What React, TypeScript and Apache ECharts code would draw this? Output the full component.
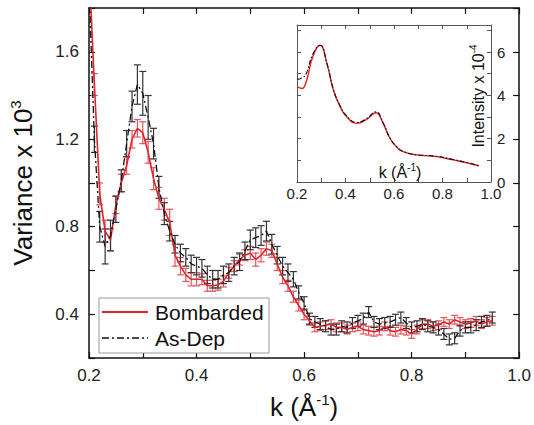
import React, { useEffect, useRef } from "react";
import * as echarts from "echarts";

const kValues = [
  0.2, 0.21, 0.22, 0.23, 0.24, 0.25, 0.26, 0.27, 0.28, 0.29,
  0.3, 0.31, 0.32, 0.33, 0.34, 0.35, 0.36, 0.37, 0.38, 0.39,
  0.4, 0.41, 0.42, 0.43, 0.44, 0.45, 0.46, 0.47, 0.48, 0.49,
  0.5, 0.51, 0.52, 0.53, 0.54, 0.55, 0.56, 0.57, 0.58, 0.59,
  0.6, 0.61, 0.62, 0.63, 0.64, 0.65, 0.66, 0.67, 0.68, 0.69,
  0.7, 0.71, 0.72, 0.73, 0.74, 0.75, 0.76, 0.77, 0.78, 0.79,
  0.8, 0.81, 0.82, 0.83, 0.84, 0.85, 0.86, 0.87, 0.88, 0.89,
  0.9, 0.91, 0.92, 0.93, 0.94, 0.95,
];

const asDep = [
  1.9, 1.2, 0.8, 0.71, 0.76, 0.88, 1.01, 1.18, 1.35, 1.45,
  1.41, 1.3, 1.18, 0.98, 0.86, 0.78, 0.72, 0.68, 0.66, 0.63,
  0.62, 0.61, 0.58, 0.56, 0.56, 0.58, 0.59, 0.62, 0.64, 0.69,
  0.74, 0.75, 0.76, 0.78, 0.72, 0.67, 0.62, 0.59, 0.56, 0.5,
  0.45, 0.38, 0.365, 0.355, 0.345, 0.33, 0.33, 0.345, 0.34, 0.36,
  0.37, 0.38, 0.41, 0.365, 0.355, 0.36, 0.365, 0.375, 0.385, 0.36,
  0.34, 0.345, 0.355, 0.345, 0.34, 0.33, 0.31, 0.285, 0.29, 0.325,
  0.34, 0.34, 0.35, 0.365, 0.37, 0.385,
];

const asDepErr = [
  0.05, 0.06, 0.07, 0.08, 0.07, 0.06, 0.05, 0.06, 0.07, 0.09,
  0.1, 0.1, 0.07, 0.05, 0.05, 0.045, 0.04, 0.04, 0.04, 0.04,
  0.04, 0.04, 0.04, 0.04, 0.04, 0.04, 0.04, 0.04, 0.04, 0.04,
  0.045, 0.045, 0.045, 0.045, 0.045, 0.04, 0.04, 0.04, 0.035, 0.03,
  0.03, 0.025, 0.025, 0.025, 0.025, 0.025, 0.025, 0.025, 0.025, 0.025,
  0.025, 0.025, 0.025, 0.025, 0.025, 0.025, 0.025, 0.025, 0.025, 0.025,
  0.025, 0.025, 0.025, 0.025, 0.025, 0.025, 0.025, 0.025, 0.025, 0.025,
  0.025, 0.025, 0.025, 0.025, 0.025, 0.025,
];

const bombarded = [
  2.0, 1.45, 0.95, 0.78, 0.74, 0.9, 1.0, 1.08, 1.2, 1.25,
  1.23, 1.14, 1.02, 0.93, 0.88, 0.82, 0.67, 0.62, 0.58, 0.56,
  0.56, 0.56, 0.53, 0.53, 0.535, 0.55, 0.59, 0.62, 0.65, 0.67,
  0.68, 0.65, 0.67, 0.7, 0.69, 0.63, 0.57, 0.53, 0.48, 0.44,
  0.4, 0.37, 0.34, 0.345, 0.35, 0.355, 0.34, 0.34, 0.33, 0.34,
  0.345, 0.33, 0.325, 0.32, 0.325, 0.345, 0.325, 0.32, 0.33, 0.325,
  0.31, 0.33, 0.355, 0.355, 0.345, 0.35, 0.365, 0.355, 0.375, 0.365,
  0.355, 0.36, 0.37, 0.355, 0.365, 0.37,
];

const bombardedErr = [
  0.05, 0.05, 0.05, 0.05, 0.05, 0.04, 0.04, 0.04, 0.04, 0.04,
  0.05, 0.05, 0.05, 0.05, 0.05, 0.06, 0.05, 0.04, 0.03, 0.03,
  0.03, 0.025, 0.025, 0.025, 0.025, 0.025, 0.025, 0.025, 0.025, 0.025,
  0.03, 0.03, 0.03, 0.03, 0.03, 0.03, 0.03, 0.025, 0.025, 0.025,
  0.025, 0.02, 0.02, 0.02, 0.02, 0.02, 0.02, 0.02, 0.02, 0.02,
  0.02, 0.02, 0.02, 0.02, 0.02, 0.02, 0.02, 0.02, 0.02, 0.02,
  0.02, 0.02, 0.02, 0.02, 0.02, 0.02, 0.02, 0.02, 0.02, 0.02,
  0.02, 0.02, 0.02, 0.02, 0.02, 0.02,
];

// Inset: intensity spectra
const insetK = [
  0.2, 0.22, 0.238, 0.265, 0.295, 0.323, 0.35, 0.378, 0.405, 0.446,
  0.487, 0.525, 0.555, 0.583, 0.61, 0.638, 0.693, 0.775, 0.844, 0.9, 0.95,
];
const insetBombarded = [
  4.4, 4.32, 4.63, 5.78, 6.32, 5.48, 4.25, 3.48, 3.01, 2.71,
  2.89, 3.2, 2.71, 2.02, 1.63, 1.4, 1.25, 1.17, 1.02, 0.89, 0.75,
];
const insetAsDep = [
  4.74, 4.8, 5.0, 5.9, 6.3, 5.5, 4.28, 3.52, 3.05, 2.75,
  2.93, 3.24, 2.74, 2.04, 1.64, 1.41, 1.26, 1.19, 1.04, 0.9, 0.75,
];

const RED = "#e0242c";
const RED_ERR = "#e8545a";
const BLACK = "#111111";
const BLACK_ERR = "#333333";
const FONT = "Liberation Sans, Arial, sans-serif";

function errSeries(name: string, vals: number[], errs: number[], color: string) {
  return {
    name,
    type: "custom",
    xAxisIndex: 0,
    yAxisIndex: 0,
    clip: true,
    silent: true,
    data: kValues.map((k, i) => [k, vals[i], errs[i]]),
    encode: { x: 0, y: 1 },
    renderItem: (params: any, api: any) => {
      const x = api.value(0);
      const y = api.value(1);
      const e = api.value(2);
      const top = api.coord([x, y + e]);
      const bot = api.coord([x, y - e]);
      const w = 3.5;
      const st = { stroke: color, lineWidth: 1.2 };
      return {
        type: "group",
        children: [
          { type: "line", shape: { x1: top[0], y1: top[1], x2: bot[0], y2: bot[1] }, style: st },
          { type: "line", shape: { x1: top[0] - w, y1: top[1], x2: top[0] + w, y2: top[1] }, style: st },
          { type: "line", shape: { x1: bot[0] - w, y1: bot[1], x2: bot[0] + w, y2: bot[1] }, style: st },
        ],
      };
    },
  };
}

const supRich = (size: number, raise: number) => ({
  sup: { fontSize: size, fontFamily: FONT, color: "#111", padding: [0, 0, raise, 0] },
});

export default function App() {
  const ref = useRef<HTMLDivElement>(null);
  useEffect(() => {
    document.body.style.margin = "0";
    if (!ref.current) return;
    const chart = echarts.init(ref.current, undefined, { renderer: "svg" });
    const axisLine = { show: true, onZero: false, lineStyle: { color: "#111", width: 1.5 } };
    const option: any = {
      animation: false,
      backgroundColor: "#fff",
      grid: [
        { left: 88, top: 8, width: 433, height: 350 },
        { left: 297, top: 25, width: 194, height: 157, show: true, backgroundColor: "#fff", borderWidth: 0 },
      ],
      xAxis: [
        {
          gridIndex: 0, type: "value", min: 0.2, max: 1.0, interval: 0.1, position: "bottom",
          axisLine, splitLine: { show: false },
          axisTick: { inside: true, length: 6, lineStyle: { color: "#111", width: 1.2 } },
          axisLabel: {
            fontSize: 17, fontFamily: FONT, color: "#222", margin: 9,
            formatter: (v: number) => (Math.round(v * 10) % 2 === 0 ? v.toFixed(1) : ""),
          },
          name: "k (Å{sup|-1})",
          nameLocation: "middle",
          nameGap: 34,
          nameTextStyle: { fontSize: 26, fontFamily: FONT, color: "#111", rich: supRich(15, 14) },
        },
        {
          gridIndex: 0, type: "value", min: 0.2, max: 1.0, interval: 0.1, position: "top",
          axisLine, splitLine: { show: false },
          axisTick: { inside: true, length: 6, lineStyle: { color: "#111", width: 1.2 } },
          axisLabel: { show: false },
        },
        {
          gridIndex: 1, type: "value", min: 0.2, max: 1.0, interval: 0.1, position: "bottom",
          axisLine: { show: true, onZero: false, lineStyle: { color: "#555", width: 1 } },
          splitLine: { show: false },
          axisTick: { inside: true, length: 4, lineStyle: { color: "#555", width: 1 } },
          axisLabel: {
            fontSize: 15, fontFamily: FONT, color: "#222", margin: 4,
            formatter: (v: number) => (Math.round(v * 10) % 2 === 0 ? v.toFixed(1) : ""),
          },
        },
        {
          gridIndex: 1, type: "value", min: 0.2, max: 1.0, interval: 0.1, position: "top",
          axisLine: { show: true, onZero: false, lineStyle: { color: "#555", width: 1 } },
          splitLine: { show: false },
          axisTick: { inside: true, length: 4, lineStyle: { color: "#555", width: 1 } },
          axisLabel: { show: false },
        },
      ],
      yAxis: [
        {
          gridIndex: 0, type: "value", min: 0.2, max: 1.8, interval: 0.2, position: "left",
          axisLine, splitLine: { show: false },
          axisTick: { inside: true, length: 6, lineStyle: { color: "#111", width: 1.2 } },
          axisLabel: {
            fontSize: 17, fontFamily: FONT, color: "#222", margin: 10,
            formatter: (v: number) => {
              const r = Math.round(v * 10);
              return r % 4 === 0 && r > 0 ? v.toFixed(1) : "";
            },
          },
          name: "Variance x 10{sup|3}",
          nameLocation: "middle",
          nameRotate: 90,
          nameGap: 52,
          nameTextStyle: { fontSize: 26, fontFamily: FONT, color: "#111", rich: supRich(15, 14) },
        },
        {
          gridIndex: 0, type: "value", min: 0.2, max: 1.8, interval: 0.2, position: "right",
          axisLine, splitLine: { show: false },
          axisTick: { inside: true, length: 6, lineStyle: { color: "#111", width: 1.2 } },
          axisLabel: { show: false },
        },
        {
          gridIndex: 1, type: "value", min: 0, max: 7.25, interval: 1, position: "right",
          axisLine: { show: true, onZero: false, lineStyle: { color: "#555", width: 1 } },
          splitLine: { show: false },
          axisTick: { inside: true, length: 4, lineStyle: { color: "#555", width: 1 } },
          axisLabel: {
            fontSize: 15, fontFamily: FONT, color: "#222", margin: 6,
            formatter: (v: number) => (Math.round(v) % 2 === 0 ? String(Math.round(v)) : ""),
          },
        },
        {
          gridIndex: 1, type: "value", min: 0, max: 7.25, interval: 1, position: "left",
          axisLine: { show: true, onZero: false, lineStyle: { color: "#555", width: 1 } },
          splitLine: { show: false },
          axisTick: { inside: true, length: 4, lineStyle: { color: "#555", width: 1 } },
          axisLabel: { show: false },
        },
      ],
      series: [
        errSeries("Bombarded err", bombarded, bombardedErr, RED_ERR),
        errSeries("As-Dep err", asDep, asDepErr, BLACK_ERR),
        {
          name: "Bombarded", type: "line", xAxisIndex: 0, yAxisIndex: 0, clip: true,
          data: kValues.map((k, i) => [k, bombarded[i]]),
          showSymbol: false, lineStyle: { color: RED, width: 1.6 },
        },
        {
          name: "As-Dep", type: "line", xAxisIndex: 0, yAxisIndex: 0, clip: true,
          data: kValues.map((k, i) => [k, asDep[i]]),
          showSymbol: false, lineStyle: { color: BLACK, width: 1.3, type: [7, 3, 2, 3] },
        },
        {
          name: "Inset Bombarded", type: "line", xAxisIndex: 2, yAxisIndex: 2, smooth: true,
          data: insetK.map((k, i) => [k, insetBombarded[i]]),
          showSymbol: false, lineStyle: { color: RED, width: 1.4 },
        },
        {
          name: "Inset As-Dep", type: "line", xAxisIndex: 2, yAxisIndex: 2, smooth: true,
          data: insetK.map((k, i) => [k, insetAsDep[i]]),
          showSymbol: false, lineStyle: { color: BLACK, width: 1.1, type: [5, 2, 1.5, 2] },
        },
      ],
      graphic: [
        {
          type: "rect", shape: { x: 99, y: 298, width: 170, height: 55 },
          style: { fill: "#fff", stroke: "#999", lineWidth: 1 }, z: 100,
        },
        {
          type: "line", shape: { x1: 102, y1: 312, x2: 148, y2: 312 },
          style: { stroke: RED, lineWidth: 2 }, z: 101,
        },
        {
          type: "line", shape: { x1: 102, y1: 338, x2: 148, y2: 338 },
          style: { stroke: BLACK, lineWidth: 1.4, lineDash: [7, 3, 2, 3] }, z: 101,
        },
        {
          type: "text", x: 155, y: 312, z: 101,
          style: { text: "Bombarded", fontSize: 21, fontFamily: FONT, fill: "#111", verticalAlign: "middle" },
        },
        {
          type: "text", x: 155, y: 338, z: 101,
          style: { text: "As-Dep", fontSize: 21, fontFamily: FONT, fill: "#111", verticalAlign: "middle" },
        },
        {
          type: "text", x: 400, y: 172, z: 101,
          style: {
            text: "k (Å{sup|-1})", fontSize: 16, fontFamily: FONT, fill: "#111",
            align: "center", verticalAlign: "middle",
            rich: { sup: { fontSize: 10, fontFamily: FONT, fill: "#111", padding: [0, 0, 9, 0] } },
          },
        },
        {
          type: "text", x: 478, y: 96, rotation: Math.PI / 2, z: 101,
          style: {
            text: "Intensity x 10{sup|-4}", fontSize: 16, fontFamily: FONT, fill: "#111",
            align: "center", verticalAlign: "middle",
            rich: { sup: { fontSize: 10, fontFamily: FONT, fill: "#111", padding: [0, 0, 9, 0] } },
          },
        },
      ],
    };
    chart.setOption(option);
    return () => chart.dispose();
  }, []);
  return <div ref={ref} style={{ width: 534, height: 425 }} />;
}
